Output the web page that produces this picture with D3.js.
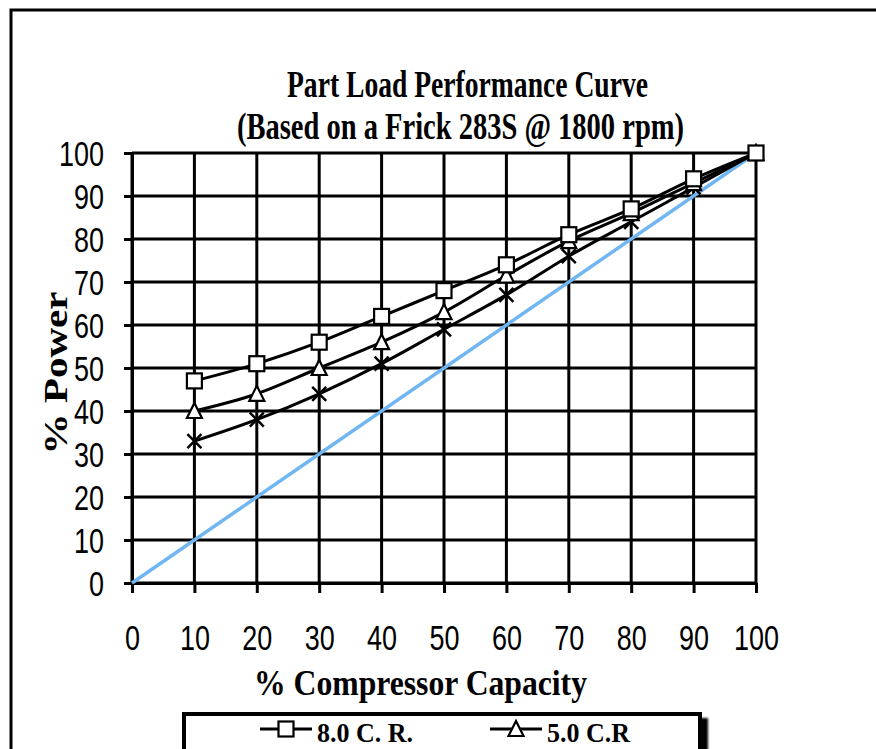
<!DOCTYPE html>
<html>
<head>
<meta charset="utf-8">
<script src="https://cdn.jsdelivr.net/npm/d3@7"></script>
<style>
body { margin: 0; background: #fff; }
.tick text { font-family: "Liberation Sans", Arial, sans-serif; font-size: 35px; fill: #000; }
.serifBold { font-family: "Liberation Serif", "Times New Roman", serif; font-weight: bold; fill: #000; }
</style>
</head>
<body>
<script>
// data
var capacity = [10, 20, 30, 40, 50, 60, 70, 80, 90, 100];
var cr8 = [47, 51, 56, 62, 68, 74, 81, 87, 94, 100];
var cr5 = [40, 44, 50, 56, 63, 71.5, 79.5, 86, 93, 100];
var crLow = [33, 38, 44, 51, 59, 67, 76, 84, 92, 100];
var idealX = [0, 100];
var idealY = [0, 100];
var xTicks = [0, 10, 20, 30, 40, 50, 60, 70, 80, 90, 100];
var yTicks = [0, 10, 20, 30, 40, 50, 60, 70, 80, 90, 100];

var svgWidth = 876;
var svgHeight = 749;

var margin = {
    top: 153,
    bottom: 166,
    left: 132,
    right: 120
}

var chartHeight = svgHeight - margin.top - margin.bottom;
var chartWidth = svgWidth - margin.left - margin.right;

var svg = d3.select('body')
    .append('svg')
    .attr('width', svgWidth)
    .attr('height', svgHeight)

// shadow for the legend box
var defs = svg.append('defs');
defs.append('filter')
    .attr('id', 'shadow')
    .attr('x', '-10%').attr('y', '-10%').attr('width', '130%').attr('height', '160%')
    .append('feDropShadow')
    .attr('dx', 6).attr('dy', 6).attr('stdDeviation', 1.2)
    .attr('flood-color', '#000').attr('flood-opacity', 1)

// outer frame (top and left edges visible)
svg.append('path')
    .attr('d', `M11,${svgHeight + 5} L11,10 L${svgWidth + 5},10`)
    .attr('fill', 'none')
    .attr('stroke', '#000')
    .attr('stroke-width', 3)

var chartGroup = svg.append('g')
    .attr('transform', `translate(${margin.left},${margin.top})`);

// scales
var xScale = d3.scaleLinear()
    .domain([0, 100])
    .range([0, chartWidth])

var yScale = d3.scaleLinear()
    .domain([0, 100])
    .range([chartHeight, 0])

// gridlines
chartGroup.append('g')
    .selectAll('line')
    .data(yTicks)
    .enter()
    .append('line')
    .attr('x1', 0)
    .attr('x2', chartWidth)
    .attr('y1', d => yScale(d))
    .attr('y2', d => yScale(d))
    .attr('stroke', '#000')
    .attr('stroke-width', 3)

chartGroup.append('g')
    .selectAll('line')
    .data(xTicks)
    .enter()
    .append('line')
    .attr('x1', d => xScale(d))
    .attr('x2', d => xScale(d))
    .attr('y1', 0)
    .attr('y2', chartHeight)
    .attr('stroke', '#000')
    .attr('stroke-width', 3)

// axes
var xAxis = d3.axisBottom(xScale).tickValues(xTicks).tickSize(10).tickSizeOuter(0).tickPadding(32)
var yAxis = d3.axisLeft(yScale).tickValues(yTicks).tickSize(8).tickSizeOuter(0).tickPadding(20)

var xg = chartGroup.append('g')
    .attr('transform', `translate(0,${chartHeight})`)
    .call(xAxis);
var yg = chartGroup.append('g')
    .call(yAxis);

[xg, yg].forEach(g => {
    g.select('.domain').attr('stroke', '#000').attr('stroke-width', 3)
    g.selectAll('.tick line').attr('stroke', '#000').attr('stroke-width', 3)
    // narrow digits like the original
    g.selectAll('.tick text')
        .attr('font-family', null).attr('font-size', null)
        .attr('textLength', d => String(d).length * 15)
        .attr('lengthAdjust', 'spacingAndGlyphs')
})
yg.selectAll('.tick text').attr('dy', '0.36em')

// ideal line
var ideal = idealX.map((d, i) => ({x: d, y: idealY[i]}))
chartGroup.append('path')
    .datum(ideal)
    .attr('d', d3.line().x(d => xScale(d.x)).y(d => yScale(d.y)))
    .attr('fill', 'none')
    .attr('stroke', '#6fb6f2')
    .attr('stroke-width', 3.5)

var series = [
    {name: '8.0 C. R.', values: cr8, marker: 'square'},
    {name: '5.0 C.R', values: cr5, marker: 'triangle'},
    {name: 'low C.R', values: crLow, marker: 'cross'}
]

var line = d3.line()
    .x(d => xScale(d.x))
    .y(d => yScale(d.y))
    .curve(d3.curveMonotoneX)

function drawMarker(g, type, cx, cy) {
    if (type === 'square') {
        g.append('rect')
            .attr('x', cx - 7.5).attr('y', cy - 7.5)
            .attr('width', 15).attr('height', 15)
            .attr('fill', '#fff').attr('stroke', '#000').attr('stroke-width', 2.2)
    } else if (type === 'triangle') {
        g.append('path')
            .attr('d', `M${cx},${cy - 8} L${cx + 7.5},${cy + 7} L${cx - 7.5},${cy + 7} Z`)
            .attr('fill', '#fff').attr('stroke', '#000').attr('stroke-width', 2.2)
    } else {
        g.append('path')
            .attr('d', `M${cx - 7},${cy - 7} L${cx + 7},${cy + 7} M${cx - 7},${cy + 7} L${cx + 7},${cy - 7}`)
            .attr('stroke', '#000').attr('stroke-width', 2.5)
    }
}

// lines first, then markers on top
series.forEach(s => {
    var pts = capacity.map((c, i) => ({x: c, y: s.values[i]}))
    chartGroup.append('path')
        .datum(pts)
        .attr('d', line)
        .attr('fill', 'none')
        .attr('stroke', '#000')
        .attr('stroke-width', 3)
})
series.slice().reverse().forEach(s => {
    var mg = chartGroup.append('g')
    capacity.forEach((c, i) => drawMarker(mg, s.marker, xScale(c), yScale(s.values[i])))
})

// title
svg.append('text')
    .attr('class', 'serifBold')
    .attr('x', 287)
    .attr('y', 97)
    .attr('font-size', '37px')
    .attr('textLength', 361)
    .attr('lengthAdjust', 'spacingAndGlyphs')
    .text('Part Load Performance Curve')

svg.append('text')
    .attr('class', 'serifBold')
    .attr('x', 237)
    .attr('y', 139)
    .attr('font-size', '37px')
    .attr('textLength', 447)
    .attr('lengthAdjust', 'spacingAndGlyphs')
    .text('(Based on a Frick 283S @ 1800 rpm)')

// x axis label
svg.append('text')
    .attr('class', 'serifBold')
    .attr('x', 254)
    .attr('y', 695)
    .attr('font-size', '36px')
    .attr('textLength', 333)
    .attr('lengthAdjust', 'spacingAndGlyphs')
    .text('% Compressor Capacity')

// y axis label
svg.append('text')
    .attr('class', 'serifBold')
    .attr('transform', 'translate(67,373) rotate(-90)')
    .attr('text-anchor', 'middle')
    .attr('font-size', '34px')
    .attr('textLength', 163)
    .attr('lengthAdjust', 'spacingAndGlyphs')
    .text('% Power')

// legend
var legend = svg.append('g')
legend.append('rect')
    .attr('x', 184)
    .attr('y', 714)
    .attr('width', 516)
    .attr('height', 60)
    .attr('fill', '#fff')
    .attr('stroke', '#000')
    .attr('stroke-width', 4)
    .attr('filter', 'url(#shadow)')

var legendItems = [
    {s: series[0], x0: 260, x1: 312, tx: 317, tl: 96},
    {s: series[1], x0: 490, x1: 542, tx: 547, tl: 83}
]
legendItems.forEach(item => {
    var ly = 729
    legend.append('line')
        .attr('x1', item.x0).attr('x2', item.x1)
        .attr('y1', ly).attr('y2', ly)
        .attr('stroke', '#000').attr('stroke-width', 3)
    drawMarker(legend, item.s.marker, (item.x0 + item.x1) / 2, ly)
    legend.append('text')
        .attr('class', 'serifBold')
        .attr('x', item.tx)
        .attr('y', 742)
        .attr('font-size', '27px')
        .attr('textLength', item.tl)
        .attr('lengthAdjust', 'spacingAndGlyphs')
        .text(item.s.name)
})
</script>
</body>
</html>
